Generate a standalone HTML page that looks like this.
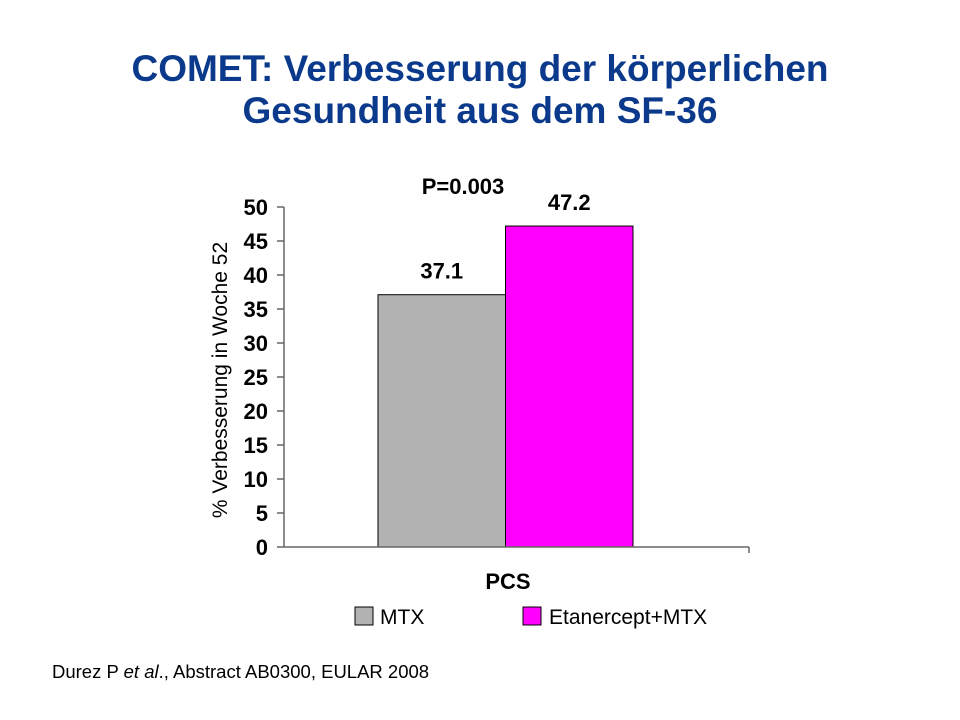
<!DOCTYPE html>
<html><head><meta charset="utf-8"><style>
body{margin:0;background:#fff;}
svg{display:block;font-family:"Liberation Sans",Arial,sans-serif;}
</style></head><body>
<svg width="960" height="720">
<text x="480" y="81" text-anchor="middle" font-size="37" font-weight="bold" fill="#0B3A8C">COMET: Verbesserung der körperlichen</text>
<text x="480" y="123" text-anchor="middle" font-size="37" font-weight="bold" fill="#0B3A8C">Gesundheit aus dem SF-36</text>
<g id="chart"></g>
<text x="463" y="194" text-anchor="middle" font-size="22" font-weight="bold">P=0.003</text>
<text transform="translate(227,380) rotate(-90)" text-anchor="middle" font-size="21">% Verbesserung in Woche 52</text>
<text x="508" y="589" text-anchor="middle" font-size="22" font-weight="bold">PCS</text>
<g>
<rect x="355" y="607" width="18" height="18" fill="#b2b2b2" stroke="#000"/>
<text x="380" y="624" font-size="21">MTX</text>
<rect x="523" y="607" width="18" height="18" fill="#ff00ff" stroke="#000"/>
<text x="549" y="624" font-size="21">Etanercept+MTX</text>
</g>
<text x="52" y="678" font-size="18.5">Durez P <tspan font-style="italic">et al</tspan>., Abstract AB0300, EULAR 2008</text>
</svg>
<script>
const series = ["MTX", "Etanercept+MTX"];
const values = [37.1, 47.2];
const colors = ["#b2b2b2", "#ff00ff"];
const yTicks = [0, 5, 10, 15, 20, 25, 30, 35, 40, 45, 50];
const NS = "http://www.w3.org/2000/svg";
const g = document.getElementById("chart");
const y0 = 547, yTop = 207, yMax = 50;
const y = v => y0 - (v / yMax) * (y0 - yTop);
const barX0 = 378, barW = 127.5;
const x = i => barX0 + i * barW;
function mk(tag, attrs) { const e = document.createElementNS(NS, tag); for (const k in attrs) e.setAttribute(k, attrs[k]); g.appendChild(e); return e; }
values.forEach((v, i) => {
  const r = mk("rect", {x: x(i), y: y(v), width: barW, height: y0 - y(v), fill: colors[i], stroke: "#000", "stroke-width": 1});
  
  
  const t = mk("text", {x: x(i) + barW / 2, y: y(v) - 16, "text-anchor": "middle", "font-size": 22, "font-weight": "bold"});
  t.textContent = v.toFixed(1);
  
  
});
const ax = mk("line", {x1: 284, y1: yTop, x2: 284, y2: y0, stroke: "#666", "stroke-width": 1.5});


const xa = mk("line", {x1: 284, y1: y0, x2: 749, y2: y0, stroke: "#666", "stroke-width": 1.5});


const xt = mk("line", {x1: 749, y1: y0, x2: 749, y2: y0 + 6, stroke: "#666", "stroke-width": 1.5});


yTicks.forEach(v => {
  const l = mk("line", {x1: 277, y1: y(v), x2: 284, y2: y(v), stroke: "#666", "stroke-width": 1.5});
  
  
  const t = mk("text", {x: 268, y: y(v) + 8, "text-anchor": "end", "font-size": 22, "font-weight": "bold"});
  t.textContent = v;
  
  
});
</script>
</body></html>
